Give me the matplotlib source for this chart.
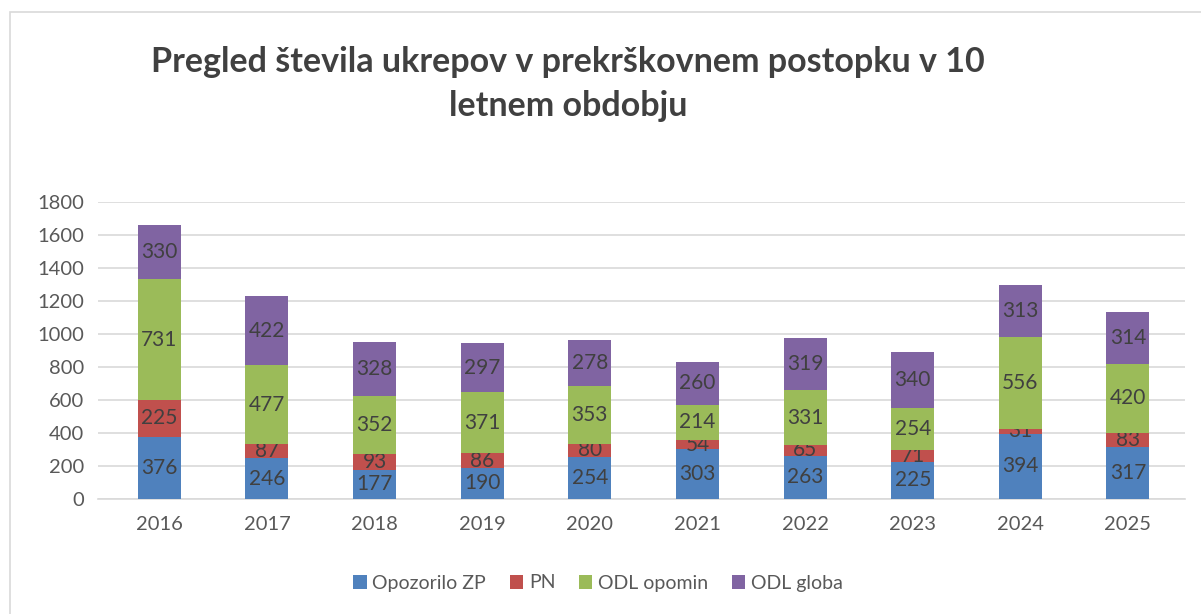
import matplotlib.pyplot as plt
from matplotlib.patches import Rectangle
import numpy as np

plt.rcParams['font.family'] = ['Lato', 'DejaVu Sans']

years = ['2016', '2017', '2018', '2019', '2020', '2021', '2022', '2023', '2024', '2025']
opozorilo_zp = [376, 246, 177, 190, 254, 303, 263, 225, 394, 317]
pn = [225, 87, 93, 86, 80, 54, 65, 71, 31, 83]
odl_opomin = [731, 477, 352, 371, 353, 214, 331, 254, 556, 420]
odl_globa = [330, 422, 328, 297, 278, 260, 319, 340, 313, 314]

series = [
    ('Opozorilo ZP', opozorilo_zp, '#4F81BD'),
    ('PN', pn, '#C0504D'),
    ('ODL opomin', odl_opomin, '#9BBB59'),
    ('ODL globa', odl_globa, '#8064A2'),
]

fig = plt.figure(figsize=(12.01, 6.14), dpi=100)
ax = fig.add_axes([98 / 1201, 1 - 499 / 614, (1185 - 98) / 1201, (499 - 202) / 614])

# chart border
fig.patches.append(Rectangle((10 / 1201, -0.1), 1.2, 1 - 12 / 614 + 0.1,
                             transform=fig.transFigure, fill=False,
                             edgecolor='#D9D9D9', linewidth=1.2))

x = np.arange(len(years))
bottom = np.zeros(len(years))
for name, vals, color in series:
    bars = ax.bar(x, vals, 0.4, bottom=bottom, color=color, label=name, zorder=3)
    ax.bar_label(bars, labels=[str(v) for v in vals], label_type='center',
                 color='#404040', fontsize=15)
    bottom += np.array(vals)

ax.set_ylim(0, 1800)
ax.set_yticks(range(0, 1801, 200))
ax.set_xlim(-0.57, 9.53)
ax.set_xticks(x, years)
ax.grid(axis='y', color='#D9D9D9', linewidth=1.2, zorder=0)
for s in ['top', 'right', 'left']:
    ax.spines[s].set_visible(False)
ax.spines['bottom'].set_color('#D9D9D9')
ax.spines['bottom'].set_linewidth(1.2)
ax.tick_params(length=0, labelsize=14.5, colors='#595959')
ax.tick_params(axis='x', pad=12)
ax.tick_params(axis='y', pad=10)

fig.text(568 / 1201, 1 - 62 / 614, 'Pregled števila ukrepov v prekrškovnem postopku v 10',
         ha='center', va='center', fontsize=24.5, fontweight='bold', color='#404040')
fig.text(568 / 1201, 1 - 106 / 614, 'letnem obdobju',
         ha='center', va='center', fontsize=24.5, fontweight='bold', color='#404040')

fig.legend(loc='center', bbox_to_anchor=(598 / 1201, 1 - 583 / 614), ncol=4,
           frameon=False, fontsize=14, labelcolor='#595959',
           handlelength=0.7, handleheight=0.7, handletextpad=0.3, columnspacing=1.2)

fig.savefig('out.png', dpi=100)
